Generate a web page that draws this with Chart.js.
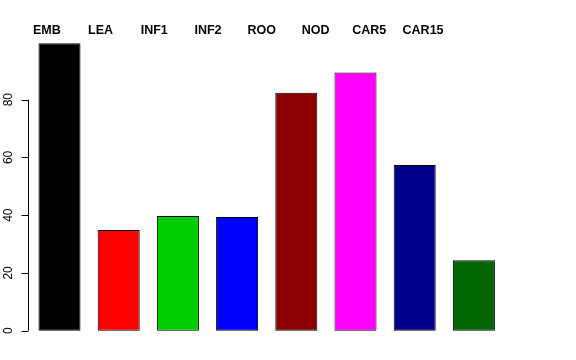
<!DOCTYPE html>
<html>
<head>
<meta charset="utf-8">
<script src="https://cdn.jsdelivr.net/npm/chart.js@4/dist/chart.umd.min.js"></script>
<style>
  body { margin: 0; background: #fff; }
</style>
</head>
<body>
<canvas id="barChart" width="576" height="360"></canvas>
<script>
const tissues = ["EMB", "LEA", "INF1", "INF2", "ROO", "NOD", "CAR5", "CAR15"];
const values = [99.5, 34.9, 39.7, 39.4, 82.4, 89.4, 57.4, 24.4];
const barColors = ["#000000", "#FF0000", "#00CD00", "#0000FF", "#8B0000", "#FF00FF", "#00008B", "#006400"];
const yTicks = [0, 20, 40, 60, 80];

// R-style left axis and top labels
const rAxis = {
  id: "rAxis",
  afterDraw(chart) {
    const ctx = chart.ctx;
    const y = chart.scales.y;
    const x = chart.scales.x;
    const axisX = 28.5;

    ctx.save();
    ctx.strokeStyle = "#000";
    ctx.lineWidth = 1;
    ctx.beginPath();
    ctx.moveTo(axisX, y.getPixelForValue(yTicks[0]));
    ctx.lineTo(axisX, y.getPixelForValue(yTicks[yTicks.length - 1]));
    yTicks.forEach((t) => {
      const py = Math.round(y.getPixelForValue(t)) + 0.5;
      ctx.moveTo(axisX, py);
      ctx.lineTo(axisX - 7, py);
    });
    ctx.stroke();

    ctx.fillStyle = "#000";
    ctx.font = "12px 'Liberation Sans', Arial, sans-serif";
    ctx.textAlign = "center";
    ctx.textBaseline = "alphabetic";
    yTicks.forEach((t) => {
      ctx.save();
      ctx.translate(12, y.getPixelForValue(t));
      ctx.rotate(-Math.PI / 2);
      ctx.fillText(String(t), 0, 0);
      ctx.restore();
    });

    // labels along the top sit a bit tighter than the bars
    ctx.font = "bold 12.5px 'Liberation Sans', Arial, sans-serif";
    tissues.forEach((name, i) => {
      const px = x.getPixelForValue(-0.215 + 0.908 * i);
      ctx.fillText(name, px, 34);
    });
    ctx.restore();
  }
};

new Chart(document.getElementById("barChart"), {
  type: "bar",
  data: {
    labels: tissues,
    datasets: [{
      data: values,
      backgroundColor: barColors,
      borderColor: "#000",
      borderWidth: 1,
      borderSkipped: false,
      barPercentage: 0.71,
      categoryPercentage: 1.0
    }]
  },
  options: {
    responsive: false,
    animation: false,
    layout: { padding: { left: 29.9, right: 72.5, top: 31.8, bottom: 17.75 } },
    plugins: { legend: { display: false }, tooltip: { enabled: false } },
    scales: {
      x: { display: false },
      y: { display: false, min: -4, max: 103.5 }
    }
  },
  plugins: [rAxis]
});
</script>
</body>
</html>
